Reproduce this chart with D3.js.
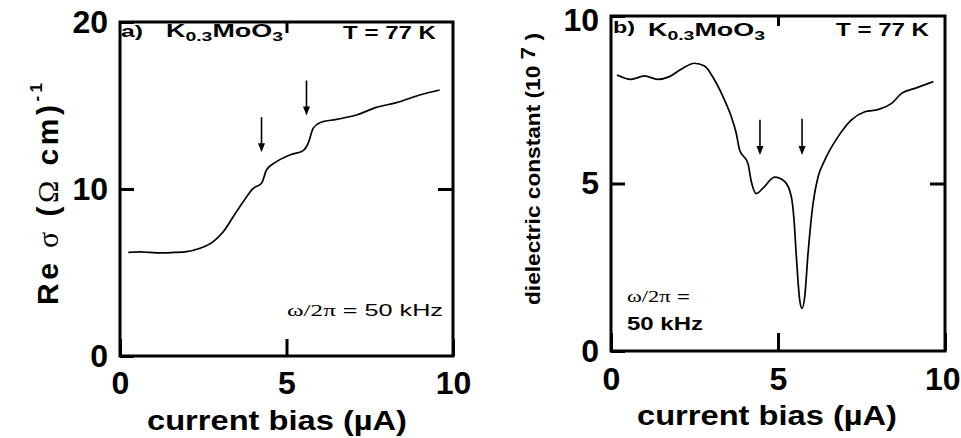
<!DOCTYPE html>
<html>
<head>
<meta charset="utf-8">
<script src="https://cdn.jsdelivr.net/npm/d3@7"></script>
<style>
  body { margin: 0; background: #fff; }
  text { font-family: "Liberation Sans", Arial, sans-serif; fill: #000; }
</style>
</head>
<body>
<svg id="chart" width="961" height="438"></svg>
<script>
// panel a: Re sigma vs current bias
const biasA = [0.25, 0.6, 0.9, 1.2, 1.6, 2.0, 2.4, 2.8, 3.1, 3.4, 3.7, 4.0, 4.25, 4.4, 4.7, 5.1, 5.5, 5.65, 5.8, 6.0, 6.5, 7.1, 7.7, 8.3, 9.0, 9.6]
const sigmaA = [6.2, 6.23, 6.2, 6.17, 6.2, 6.25, 6.45, 6.85, 7.44, 8.34, 9.24, 10.04, 10.34, 11.14, 11.64, 12.04, 12.3, 12.73, 13.63, 13.97, 14.17, 14.43, 14.89, 15.17, 15.63, 15.93]

// panel b: dielectric constant vs current bias
const biasB = [0.18, 0.6, 1.0, 1.4, 1.75, 2.1, 2.5, 2.8, 3.1, 3.4, 3.6, 3.75, 3.85, 4.1, 4.2, 4.35, 4.55, 4.9, 5.2, 5.4, 5.48, 5.55, 5.65, 5.72, 5.8, 5.9, 6.05, 6.2, 6.4, 6.8, 7.2, 7.6, 8.0, 8.4, 8.7, 9.1, 9.65]
const epsB = [8.24, 8.11, 8.21, 8.11, 8.19, 8.41, 8.59, 8.51, 8.09, 7.49, 7.0, 6.5, 6.0, 5.6, 5.06, 4.7, 4.86, 5.19, 5.06, 4.6, 3.91, 2.81, 1.52, 1.27, 1.62, 2.92, 4.41, 5.2, 5.7, 6.4, 6.9, 7.14, 7.21, 7.39, 7.69, 7.84, 8.04]

// arrows marking thresholds: x, from y, to y
const arrowsA = [[4.25, 14.3, 12.2], [5.6, 16.5, 14.4]]
const arrowsB = [[4.46, 6.9, 5.85], [5.72, 6.93, 5.85]]

const xTicks = [0, 5, 10]

const svg = d3.select("#chart")

function panel(opts) {
    const x = d3.scaleLinear().domain([0, 10]).range([opts.left, opts.right])
    const y = d3.scaleLinear().domain([0, opts.ymax]).range([opts.bottom, opts.top])
    const g = svg.append("g")

    // bottom axis, inner ticks
    const xa = g.append("g")
        .attr("transform", `translate(0,${opts.bottom})`)
        .call(d3.axisBottom(x).tickValues(xTicks).tickSizeInner(-opts.tickB).tickSizeOuter(0).tickPadding(opts.padX))
    g.append("g")
        .attr("transform", `translate(0,${opts.top})`)
        .call(d3.axisTop(x).tickValues([5]).tickSizeInner(-opts.tickT).tickSizeOuter(0).tickFormat(""))
    const yax = g.append("g")
        .attr("transform", `translate(${opts.left},0)`)
        .call(d3.axisLeft(y).tickValues(opts.yTicks).tickSizeInner(-14).tickSizeOuter(0).tickPadding(12))
    g.append("g")
        .attr("transform", `translate(${opts.right},0)`)
        .call(d3.axisRight(y).tickValues([opts.ymax / 2]).tickSizeInner(-15).tickSizeOuter(0).tickFormat(""))

    g.selectAll(".domain").remove()
    g.selectAll(".tick line").attr("stroke", "#000").attr("stroke-width", 3)
    g.selectAll(".tick text")
        .style("font-size", "32px")
        .style("font-weight", "bold")
        .style("font-family", "'Liberation Sans', Arial, sans-serif")

    // keep the edge labels inside the page
    if (opts.clipRight) {
        xa.selectAll(".tick text").filter(d => d === 10)
            .attr("text-anchor", "end").attr("x", 960 - x(10))
    }
    if (opts.nudgeTop) {
        yax.selectAll(".tick text").filter(d => d === opts.ymax)
            .attr("dy", "0.45em")
    }

    g.append("rect")
        .attr("x", opts.left).attr("y", opts.top)
        .attr("width", opts.right - opts.left).attr("height", opts.bottom - opts.top)
        .attr("fill", "none").attr("stroke", "#000").attr("stroke-width", 3)

    const line = d3.line()
        .x((d, i) => x(opts.xs[i]))
        .y(d => y(d))
        .curve(d3.curveMonotoneX)

    g.append("path")
        .datum(opts.ys)
        .attr("d", line)
        .attr("fill", "none")
        .attr("stroke", "#000")
        .attr("stroke-width", 1.7)

    // arrows
    opts.arrows.forEach(a => {
        const ax = x(a[0]), y0 = y(a[1]), y1 = y(a[2])
        g.append("line")
            .attr("x1", ax).attr("x2", ax).attr("y1", y0).attr("y2", y1 - 6)
            .attr("stroke", "#000").attr("stroke-width", 1.6)
        g.append("path")
            .attr("d", `M${ax - 3.5},${y1 - 9}L${ax + 3.5},${y1 - 9}L${ax},${y1}Z`)
            .attr("fill", "#000")
    })

    // x label
    g.append("text")
        .attr("x", opts.xlab[0]).attr("y", opts.xlab[1])
        .attr("textLength", 260).attr("lengthAdjust", "spacingAndGlyphs")
        .style("font-size", "28px").style("font-weight", "bold")
        .text("current bias (µA)")

    // panel tag and compound
    g.append("text")
        .attr("x", opts.tag[0]).attr("y", opts.tag[1])
        .attr("textLength", 22).attr("lengthAdjust", "spacingAndGlyphs")
        .style("font-size", "17px").style("font-weight", "bold")
        .text(opts.tagText)

    const comp = g.append("text")
        .attr("x", opts.comp[0]).attr("y", opts.comp[1])
        .attr("textLength", 117).attr("lengthAdjust", "spacingAndGlyphs")
        .style("font-size", "18px").style("font-weight", "bold")
    comp.append("tspan").text("K")
    comp.append("tspan").attr("dy", 4).style("font-size", "13px").text("0.3")
    comp.append("tspan").attr("dy", -4).text("MoO")
    comp.append("tspan").attr("dy", 4).style("font-size", "13px").text("3")

    g.append("text")
        .attr("x", opts.temp[0]).attr("y", opts.temp[1])
        .attr("textLength", 93).attr("lengthAdjust", "spacingAndGlyphs")
        .style("font-size", "18px").style("font-weight", "bold")
        .text("T = 77 K")

    return { x, y, g }
}

const pa = panel({
    left: 120, right: 453, top: 22, bottom: 356, ymax: 20, yTicks: [0, 10, 20],
    tickB: 17, tickT: 11, padX: 15,
    xs: biasA, ys: sigmaA, arrows: arrowsA,
    xlab: [147, 430], tag: [121, 37], tagText: "a)", comp: [166, 37], temp: [343, 39]
})

const pb = panel({
    left: 611, right: 945, top: 16, bottom: 351, ymax: 10, yTicks: [0, 5, 10],
    tickB: 18, tickT: 10, padX: 16, clipRight: true, nudgeTop: true,
    xs: biasB, ys: epsB, arrows: arrowsB,
    xlab: [637, 425], tag: [613, 33], tagText: "b)", comp: [648, 36], temp: [836, 36]
})

// frequency notes
const fa = pa.g.append("text")
    .attr("x", 287).attr("y", 316)
    .attr("textLength", 156).attr("lengthAdjust", "spacingAndGlyphs")
    .style("font-size", "17px")
fa.append("tspan").style("font-family", "'Liberation Serif', serif").text("ω/2π")
fa.append("tspan").text(" = 50  kHz")

const fb1 = pb.g.append("text")
    .attr("x", 627).attr("y", 302)
    .attr("textLength", 63).attr("lengthAdjust", "spacingAndGlyphs")
    .style("font-size", "17px")
fb1.append("tspan").style("font-family", "'Liberation Serif', serif").text("ω/2π")
fb1.append("tspan").text(" =")
pb.g.append("text")
    .attr("x", 627).attr("y", 330)
    .attr("textLength", 76).attr("lengthAdjust", "spacingAndGlyphs")
    .style("font-size", "18px").style("font-weight", "bold")
    .text("50  kHz")

// y labels
const ya = svg.append("text")
    .attr("transform", "translate(58,305) rotate(-90)")
    .attr("textLength", 222).attr("lengthAdjust", "spacing")
    .style("font-size", "30px").style("font-weight", "bold")
ya.append("tspan").text("Re ")
ya.append("tspan").style("font-weight", "normal").style("font-family", "'Liberation Serif', serif").text("σ")
ya.append("tspan").text(" (")
ya.append("tspan").style("font-weight", "normal").style("font-family", "'Liberation Serif', serif").text("Ω")
ya.append("tspan").text(" cm)")
ya.append("tspan").attr("dy", -16).style("font-size", "17px").text("-1")

const yb = svg.append("text")
    .attr("transform", "translate(540,305) rotate(-90)")
    .attr("textLength", 272).attr("lengthAdjust", "spacingAndGlyphs")
    .style("font-size", "20px").style("font-weight", "bold")
yb.append("tspan").text("dielectric constant (10 ")
yb.append("tspan").attr("dy", -5).text("7")
yb.append("tspan").attr("dy", 5).text(" )")
</script>
</body>
</html>
